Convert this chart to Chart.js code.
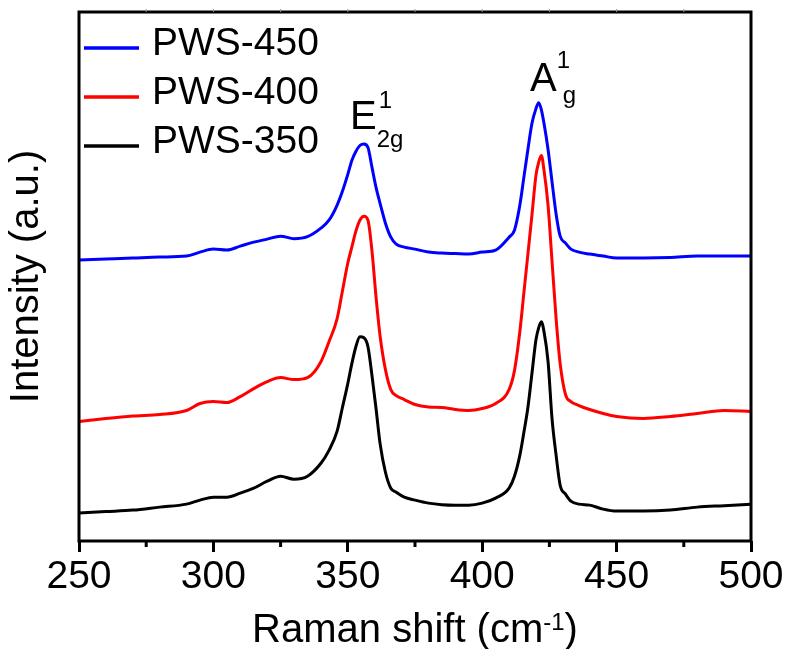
<!DOCTYPE html>
<html>
<head>
<meta charset="utf-8">
<title>Raman spectra</title>
<script src="https://cdn.jsdelivr.net/npm/chart.js@4.4.1/dist/chart.umd.min.js"></script>
<style>
  html, body { margin: 0; padding: 0; background: #fff; }
</style>
</head>
<body>
<canvas id="ramanChart" width="790" height="649"></canvas>
<script>
// Raman shift axis (cm-1) shared by all three spectra
const ramanShift = [
    250, 260, 270, 280, 290, 295, 300, 305, 310, 315, 320, 325, 330, 335,
    340, 343, 346, 348, 350, 351.5, 353, 354.5, 356, 357.5,
    359, 360.5, 362, 364, 366, 368, 371, 375,
    380, 385, 390, 395, 400, 405,
    410, 412, 414, 415.5, 417, 418.5, 420, 421, 422, 423, 424.5, 426, 427.5, 429, 431, 433, 436,
    440, 445, 450, 460, 470, 480, 490, 500];

// Intensities (a.u., offset stacked)
const pws450 = [
    282, 283, 284, 285, 286, 290, 293, 292, 296, 300, 303, 306, 303.5, 305.5,
    314, 322, 337, 351, 368, 382, 391, 397, 398.5, 395,
    375, 355, 339, 319, 305, 298, 295, 293,
    290, 289, 288.5, 288, 290, 292,
    305, 312, 337, 365, 393, 419, 434, 440, 433, 419, 393, 360, 328, 306, 299, 293, 290,
    288, 286, 284, 284, 284.5, 286, 286, 286];
const pws400 = [
    120, 123, 125.5, 127, 131, 138, 140, 139, 145, 153, 160, 164, 162, 164,
    180, 200, 223, 251, 279, 295, 311, 322, 326, 322,
    291, 245, 206, 172, 152, 146, 142, 137,
    134.5, 134, 132, 131, 133, 138,
    152, 171, 210, 249, 288, 327, 367, 380, 387, 372, 337, 280, 223, 178, 147, 140, 136,
    132, 128, 125, 123, 125, 128, 131, 130];
const pws350 = [
    28, 29.5, 31, 34, 37, 41, 44, 44, 48, 53, 60, 65, 62, 65,
    78, 91, 110, 134, 158, 178, 195, 205, 204, 195,
    166, 133, 98, 69, 53, 49, 44, 41,
    38, 36.5, 36, 36, 38, 43,
    53, 65, 86, 109, 134, 168, 202, 214, 220, 210, 180, 122, 86, 56, 47, 40, 37,
    36, 32, 30, 30, 31, 34, 35.5, 37];

const seriesNames = ['PWS-450', 'PWS-400', 'PWS-350'];
const seriesColors = ['#0000ff', '#ff0000', '#000000'];
const seriesValues = [pws450, pws400, pws350];

// Labelled ticks on the Raman shift axis; minor ticks sit half way between
const xTickLabels = [250, 300, 350, 400, 450, 500];

// Peak labels: [base, superscript, subscript, x (cm-1), y (a.u.)]
const peakLabels = [
    ['E', '1', '2g', 350.8, 414],
    ['A', '1', 'g', 417.8, 452]
];

const FONT = "'Liberation Sans', Arial, sans-serif";

// Draws the frame, minor ticks, legend, peak labels and x axis title
const decorations = {
    id: 'decorations',
    afterDraw(chart) {
        const { ctx, chartArea: area, scales } = chart;
        const x = scales.x;
        const y = scales.y;
        ctx.save();

        // frame around the plot
        ctx.strokeStyle = '#000';
        ctx.lineWidth = 3;
        ctx.strokeRect(area.left, area.top, area.right - area.left, area.bottom - area.top);

        // minor ticks below, faint ticks above
        for (let v = 275; v < 500; v += 50) {
            const px = x.getPixelForValue(v);
            ctx.lineWidth = 3;
            ctx.strokeStyle = '#000';
            ctx.beginPath();
            ctx.moveTo(px, area.bottom);
            ctx.lineTo(px, area.bottom + 6);
            ctx.stroke();
        }
        for (let v = 275; v < 500; v += 25) {
            const px = x.getPixelForValue(v);
            ctx.lineWidth = 1;
            ctx.strokeStyle = '#999';
            ctx.beginPath();
            ctx.moveTo(px, area.top - 3);
            ctx.lineTo(px, area.top);
            ctx.stroke();
        }

        // legend in the upper left corner
        ctx.textBaseline = 'alphabetic';
        ctx.textAlign = 'left';
        seriesNames.forEach((name, i) => {
            const lineY = 48 + i * 49;
            ctx.strokeStyle = seriesColors[i];
            ctx.lineWidth = 3.5;
            ctx.beginPath();
            ctx.moveTo(area.left + 5, lineY);
            ctx.lineTo(area.left + 60, lineY);
            ctx.stroke();
            ctx.fillStyle = '#000';
            ctx.font = `39px ${FONT}`;
            ctx.fillText(name, area.left + 73, lineY + 7);
        });

        // phonon mode labels
        peakLabels.forEach(([base, sup, sub, vx, vy]) => {
            const px = x.getPixelForValue(vx);
            const py = y.getPixelForValue(vy);
            ctx.fillStyle = '#000';
            ctx.font = `40px ${FONT}`;
            ctx.fillText(base, px, py);
            const w = ctx.measureText(base).width;
            ctx.font = `24px ${FONT}`;
            if (base === 'E') {
                ctx.fillText(sup, px + w + 2, py - 21);
                ctx.fillText(sub, px + w, py + 18);
            } else {
                ctx.fillText(sup, px + w, py - 23);
                ctx.fillText(sub, px + w + 6, py + 12);
            }
        });

        // x axis title with superscript
        const main = 'Raman shift (cm';
        ctx.font = `40px ${FONT}`;
        const wMain = ctx.measureText(main).width;
        const wClose = ctx.measureText(')').width;
        ctx.font = `24px ${FONT}`;
        const wSup = ctx.measureText('-1').width;
        const total = wMain + wSup + wClose;
        let tx = (area.left + area.right) / 2 - total / 2;
        const ty = 642;
        ctx.font = `40px ${FONT}`;
        ctx.fillText(main, tx, ty);
        tx += wMain;
        ctx.font = `24px ${FONT}`;
        ctx.fillText('-1', tx, ty - 12);
        tx += wSup;
        ctx.font = `40px ${FONT}`;
        ctx.fillText(')', tx, ty);

        ctx.restore();
    }
};

function buildDatasets() {
    return seriesNames.map((name, i) => ({
        label: name,
        data: ramanShift.map((shift, j) => ({ x: shift, y: seriesValues[i][j] })),
        borderColor: seriesColors[i],
        borderWidth: 3,
        pointRadius: 0,
        fill: false,
        cubicInterpolationMode: 'monotone'
    }));
}

const chart = new Chart(document.getElementById('ramanChart'), {
    type: 'line',
    data: { datasets: buildDatasets() },
    options: {
        responsive: false,
        animation: false,
        layout: { padding: { top: 12, right: 39, bottom: 46.2, left: 0 } },
        plugins: {
            legend: { display: false },
            tooltip: { enabled: false }
        },
        scales: {
            x: {
                type: 'linear',
                min: 250,
                max: 500,
                border: { display: false },
                grid: {
                    drawOnChartArea: false,
                    drawTicks: true,
                    tickLength: 11,
                    tickWidth: 3,
                    tickColor: ctx => xTickLabels.includes(ctx.tick.value) ? '#000' : 'rgba(0,0,0,0)'
                },
                ticks: {
                    stepSize: 25,
                    autoSkip: false,
                    maxRotation: 0,
                    padding: 2,
                    color: '#000',
                    font: { size: 39, family: FONT },
                    callback: value => xTickLabels.includes(value) ? String(value) : ''
                }
            },
            y: {
                min: 0,
                max: 531,
                border: { display: false },
                grid: { display: false, drawTicks: false },
                ticks: { display: false },
                title: {
                    display: true,
                    text: 'Intensity (a.u.)',
                    color: '#000',
                    font: { size: 40, family: FONT, lineHeight: 1 },
                    padding: { top: 6.5, bottom: 32.5 }
                }
            }
        }
    },
    plugins: [decorations]
});
</script>
</body>
</html>
